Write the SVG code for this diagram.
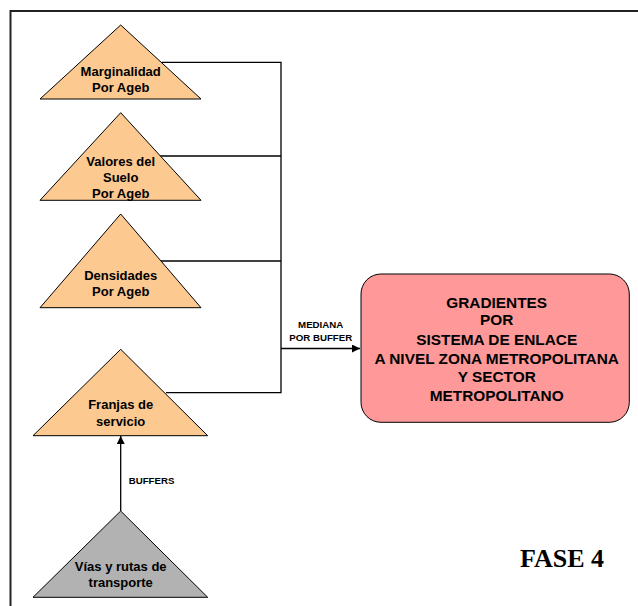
<svg xmlns="http://www.w3.org/2000/svg" width="638" height="606" viewBox="0 0 638 606">
  <style>
    .tri { fill: #fcc991; stroke: #000; stroke-width: 1; }
    .tri-gray { fill: #b2b2b2; stroke: #000; stroke-width: 1; }
    .lbl { font-family: "Liberation Sans", Arial, sans-serif; font-weight: bold; font-size: 13px; fill: #000; text-anchor: middle; }
    .box-lbl { font-family: "Liberation Sans", Arial, sans-serif; font-weight: bold; font-size: 15.4px; fill: #000; text-anchor: middle; }
    .small { font-family: "Liberation Sans", Arial, sans-serif; font-weight: bold; font-size: 9.7px; fill: #000; }
    .conn { fill: none; stroke: #000; stroke-width: 1.3; }
    .title { font-family: "Liberation Serif", "Times New Roman", serif; font-weight: bold; font-size: 26px; fill: #000; }
  </style>
  <defs>
    <marker id="arrow" viewBox="0 0 10 10" refX="10" refY="5" markerWidth="8" markerHeight="8" markerUnits="userSpaceOnUse" orient="auto">
      <path d="M0,0 L10,5 L0,10 Z" fill="#000"/>
    </marker>
  </defs>

  <rect width="638" height="606" fill="#fff"/>
  <!-- page frame -->
  <rect x="10.5" y="11" width="640" height="620" fill="none" stroke="#222" stroke-width="2"/>

  <g id="connectors">
    <polyline class="conn" points="162,62.3 281,62.3 281,392.7 166,392.7"/>
    <line class="conn" x1="156" y1="156" x2="281" y2="156"/>
    <line class="conn" x1="161" y1="261" x2="281" y2="261"/>
    <line class="conn" x1="281" y1="348.5" x2="360" y2="348.5" marker-end="url(#arrow)"/>
    <line class="conn" x1="120.7" y1="511" x2="120.7" y2="436" marker-end="url(#arrow)"/>
    <text class="small" x="320.7" y="327.5" text-anchor="middle">MEDIANA</text>
    <text class="small" x="320.7" y="340.8" text-anchor="middle">POR BUFFER</text>
    <text class="small" x="128.7" y="484">BUFFERS</text>
  </g>

  <g id="marginalidad">
    <polygon class="tri" points="120.7,25 201,99 40,99"/>
    <text class="lbl" x="120.7" y="76">Marginalidad</text>
    <text class="lbl" x="120.7" y="92.3">Por Ageb</text>
  </g>

  <g id="valores">
    <polygon class="tri" points="120.7,112.7 201,200.3 40,200.3"/>
    <text class="lbl" x="120.7" y="166">Valores del</text>
    <text class="lbl" x="120.7" y="182">Suelo</text>
    <text class="lbl" x="120.7" y="198">Por Ageb</text>
  </g>

  <g id="densidades">
    <polygon class="tri" points="120.7,214 201,307.7 40,307.7"/>
    <text class="lbl" x="120.7" y="279.5">Densidades</text>
    <text class="lbl" x="120.7" y="296">Por Ageb</text>
  </g>

  <g id="franjas">
    <polygon class="tri" points="120.7,349.3 207.7,435.7 33,435.7"/>
    <text class="lbl" x="120.7" y="409">Franjas de</text>
    <text class="lbl" x="120.7" y="426">servicio</text>
  </g>

  <g id="vias">
    <polygon class="tri-gray" points="120.7,511 207.7,597.3 33,597.3"/>
    <text class="lbl" x="120.7" y="570.5">Vías y rutas de</text>
    <text class="lbl" x="120.7" y="587">transporte</text>
  </g>

  <g id="gradientes">
    <rect x="361" y="274" width="268.3" height="148.3" rx="20" ry="20" fill="#ff9999" stroke="#000" stroke-width="1"/>
    <text class="box-lbl" x="496.7" y="308">GRADIENTES</text>
    <text class="box-lbl" x="496.7" y="324.6">POR</text>
    <text class="box-lbl" x="496.7" y="345.3">SISTEMA DE ENLACE</text>
    <text class="box-lbl" x="496.7" y="364">A NIVEL ZONA METROPOLITANA</text>
    <text class="box-lbl" x="496.7" y="382">Y SECTOR</text>
    <text class="box-lbl" x="496.7" y="401">METROPOLITANO</text>
  </g>

  <text class="title" x="520" y="566.7">FASE 4</text>
</svg>
